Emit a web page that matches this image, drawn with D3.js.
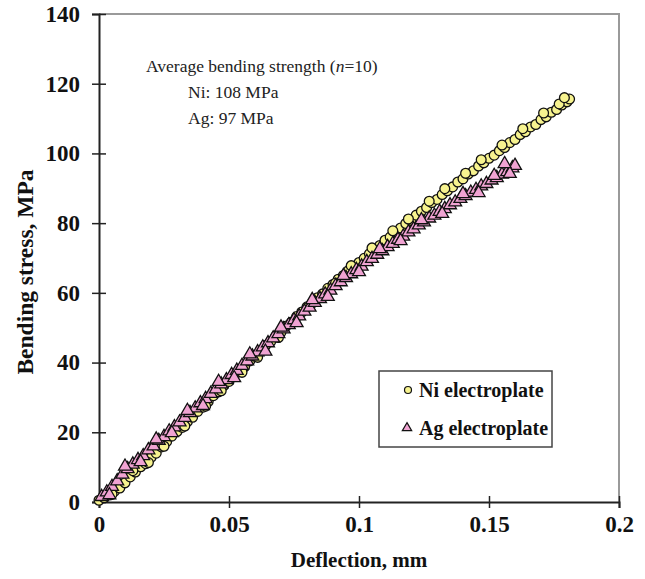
<!DOCTYPE html>
<html lang="en">
<head>
  <meta charset="UTF-8">
  <title>Bending stress vs deflection</title>
  <script src="https://d3js.org/d3.v7.min.js"></script>
  <style>
    body { margin: 0; background: #fff; }
    svg { display: block; font-family: "Liberation Serif", "DejaVu Serif", serif; }
    .tick text { font-size: 23px; font-weight: bold; fill: #111; }
    .axis-title { font-size: 21px; font-weight: bold; fill: #111; }
    .y-title { font-size: 23.5px; }
    .note { font-size: 17.5px; fill: #222; }
    .legend-text { font-size: 20px; font-weight: bold; fill: #111; }
  </style>
</head>
<body>
  <svg id="chart" width="645" height="579"></svg>
  <script>
    // Ni electroplate (deflection mm, stress MPa)
    const niX = [0.000,0.002,0.004,0.006,0.008,0.010,0.012,0.014,0.016,0.018,0.020,0.022,0.024,0.026,0.028,0.030,0.032,0.034,0.036,0.038,
      0.040,0.042,0.044,0.046,0.048,0.050,0.052,0.054,0.056,0.058,0.060,0.062,0.064,0.066,0.068,0.070,0.072,0.074,0.076,0.078,
      0.080,0.082,0.084,0.086,0.088,0.090,0.092,0.094,0.096,0.098,0.100,0.102,0.104,0.106,0.108,0.110,0.112,0.114,0.116,0.118,
      0.120,0.122,0.124,0.126,0.128,0.130,0.132,0.134,0.136,0.138,0.140,0.142,0.144,0.146,0.148,0.150,0.152,0.154,0.156,0.158,
      0.160,0.162,0.164,0.166,0.168,0.170,0.172,0.174,0.176,0.178,0.180,0.181,
      0.005,0.013,0.019,0.025,0.033,0.041,0.047,0.055,0.061,0.069,0.075,0.083,0.091,0.097,0.105,0.113,0.119,0.127,0.133,0.141,
      0.147,0.155,0.163,0.171,0.177,0.179];
    const niY = [0.5,1.2,2.0,3.1,4.0,5.5,7.2,8.6,10.1,11.0,12.8,14.0,15.8,17.3,18.9,20.2,21.4,23.1,24.3,26.0,
      27.2,28.8,30.5,31.6,33.4,34.6,36.2,37.6,38.8,40.5,41.8,43.1,44.9,46.0,47.6,48.7,50.5,51.6,53.2,54.5,
      56.0,57.1,58.6,59.7,61.3,62.4,63.9,65.0,66.4,67.3,68.7,69.9,71.2,72.4,73.6,75.1,76.0,77.5,78.6,79.9,
      80.8,82.3,83.4,84.5,85.9,86.8,88.2,89.3,90.4,91.8,92.7,94.1,95.0,96.4,97.3,98.6,99.5,100.8,101.7,103.1,
      104.0,105.4,106.2,107.6,108.3,109.7,110.5,111.8,112.6,113.9,114.8,115.6,
      2.2,9.0,11.3,16.0,21.8,27.5,31.9,37.2,41.5,47.2,51.8,57.5,62.8,67.8,72.9,77.8,81.2,86.3,89.9,94.3,
      98.2,102.4,107.1,111.6,114.2,116.0];

    // Ag electroplate
    const agX = [0.001,0.003,0.005,0.007,0.009,0.011,0.013,0.015,0.017,0.019,0.021,0.023,0.025,0.027,0.029,0.031,0.033,0.035,0.037,0.039,
      0.041,0.043,0.045,0.047,0.049,0.051,0.053,0.055,0.057,0.059,0.061,0.063,0.065,0.067,0.069,0.071,0.073,0.075,0.077,0.079,
      0.081,0.083,0.085,0.087,0.089,0.091,0.093,0.095,0.097,0.099,0.101,0.103,0.105,0.107,0.109,0.111,0.113,0.115,0.117,0.119,
      0.121,0.123,0.125,0.127,0.129,0.131,0.133,0.135,0.137,0.139,0.141,0.143,0.145,0.147,0.149,0.151,0.153,0.155,0.157,0.159,0.160,
      0.004,0.010,0.016,0.022,0.028,0.034,0.040,0.046,0.052,0.058,0.064,0.070,0.076,0.082,0.088,0.094,0.100,0.108,0.116,0.124,
      0.132,0.140,0.146,0.152,0.158,0.156];
    const agY = [1.5,2.8,4.4,6.0,7.9,9.5,10.8,12.1,13.2,14.9,16.0,17.6,18.7,20.3,21.5,22.9,24.2,25.6,26.9,28.4,
      29.6,31.1,32.4,33.8,35.0,36.5,37.7,39.1,40.4,41.8,43.0,44.4,45.6,47.0,48.2,49.6,50.8,52.2,53.3,54.7,
      55.8,57.2,58.3,59.6,60.7,62.0,63.1,64.3,65.4,66.6,67.6,68.9,69.8,71.0,72.0,73.2,74.1,75.3,76.2,77.4,
      78.3,79.4,80.3,81.4,82.2,83.3,84.1,85.2,86.0,87.0,87.8,88.8,89.6,90.6,91.3,92.3,93.0,94.0,94.7,95.8,96.5,
      2.0,10.2,11.5,18.0,19.8,26.2,27.6,34.5,35.6,42.4,43.2,50.1,51.4,58.0,58.9,64.9,66.0,72.6,74.9,80.9,
      82.7,88.4,88.7,93.6,94.2,97.0];

    const xTicks = [0, 0.05, 0.1, 0.15, 0.2];
    const yTicks = [0, 20, 40, 60, 80, 100, 120, 140];
    const seriesNames = ['Ni electroplate', 'Ag electroplate'];
    const noteLines = ['Ni: 108 MPa', 'Ag: 97 MPa'];

    const svg = d3.select('#chart');
    const m = { left: 99, right: 619, top: 14, bottom: 502 };

    const x = d3.scaleLinear().domain([0, 0.2]).range([m.left, m.right]);
    const y = d3.scaleLinear().domain([0, 140]).range([m.bottom, m.top]);

    // frame top/right in grey
    svg.append('path')
      .attr('d', `M${m.left},${m.top}H${m.right}V${m.bottom}`)
      .attr('fill', 'none').attr('stroke', '#9a9a9a').attr('stroke-width', 2);

    const xAxis = svg.append('g')
      .attr('transform', `translate(0,${m.bottom})`)
      .call(d3.axisBottom(x).tickValues(xTicks).tickFormat(d => d === 0 ? '0' : String(d)).tickSize(6).tickPadding(8));
    xAxis.selectAll('.tick line').attr('y1', -6).attr('y2', 6).attr('stroke', '#222').attr('stroke-width', 1.5);
    xAxis.select('.domain').attr('stroke', '#222').attr('stroke-width', 2);

    const yAxis = svg.append('g')
      .attr('transform', `translate(${m.left},0)`)
      .call(d3.axisLeft(y).tickValues(yTicks).tickSize(7).tickPadding(12));
    yAxis.selectAll('.tick line').attr('x1', -7).attr('x2', 7).attr('stroke', '#222').attr('stroke-width', 1.5);
    yAxis.select('.domain').attr('stroke', '#222').attr('stroke-width', 2);
    yAxis.attr('font-family', null).attr('font-size', null);
    xAxis.attr('font-family', null).attr('font-size', null);

    svg.append('text').attr('class', 'axis-title')
      .attr('x', (m.left + m.right) / 2).attr('y', 567).attr('text-anchor', 'middle')
      .text('Deflection, mm');
    svg.append('text').attr('class', 'axis-title y-title')
      .attr('transform', `translate(33,${(m.top + m.bottom) / 2 + 14}) rotate(-90)`)
      .attr('text-anchor', 'middle')
      .text('Bending stress, MPa');

    // data
    const ni = niX.map((d, i) => [d, niY[i]]);
    const ag = agX.map((d, i) => [d, agY[i]]);
    const niFill = '#f7f38f', agFill = '#f0a3d2';
    const tri = d3.symbol().type(d3.symbolTriangle).size(72);

    svg.append('g').selectAll('circle').data(ni).join('circle')
      .attr('cx', d => x(d[0])).attr('cy', d => y(d[1])).attr('r', 4.9)
      .attr('fill', niFill).attr('stroke', '#111').attr('stroke-width', 1.3);

    svg.append('g').selectAll('path').data(ag).join('path')
      .attr('d', tri)
      .attr('transform', d => `translate(${x(d[0])},${y(d[1])})`)
      .attr('fill', agFill).attr('stroke', '#111').attr('stroke-width', 1.3);

    // annotation
    const note = svg.append('text').attr('class', 'note').attr('x', 146).attr('y', 72);
    note.append('tspan').text('Average bending strength (');
    note.append('tspan').attr('font-style', 'italic').text('n');
    note.append('tspan').text('=10)');
    noteLines.forEach((t, i) => {
      svg.append('text').attr('class', 'note').attr('x', 188).attr('y', 98 + i * 26).text(t);
    });

    // legend
    const lg = svg.append('g');
    lg.append('rect').attr('x', 379).attr('y', 371).attr('width', 173).attr('height', 76)
      .attr('fill', '#fff').attr('stroke', '#444').attr('stroke-width', 1.5);
    lg.append('circle').attr('cx', 408).attr('cy', 390).attr('r', 3.5)
      .attr('fill', niFill).attr('stroke', '#111').attr('stroke-width', 1.2);
    lg.append('path').attr('d', d3.symbol().type(d3.symbolTriangle).size(38))
      .attr('transform', 'translate(407,428)')
      .attr('fill', agFill).attr('stroke', '#111').attr('stroke-width', 1.2);
    seriesNames.forEach((s, i) => {
      lg.append('text').attr('class', 'legend-text').attr('x', 419).attr('y', 397 + i * 38).text(s);
    });
  </script>
</body>
</html>
